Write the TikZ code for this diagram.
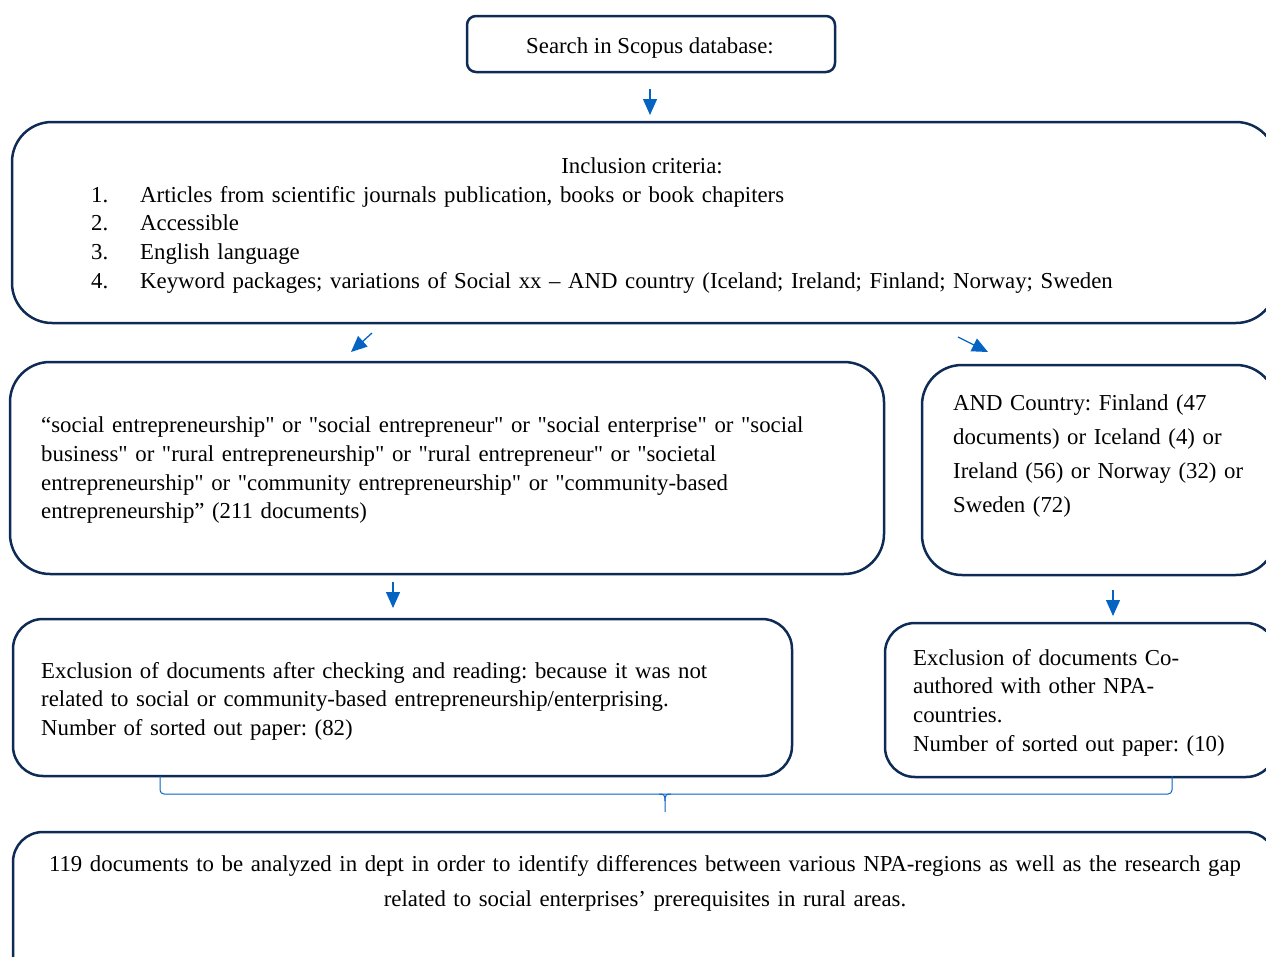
\documentclass[tikz,border=0pt]{standalone}
\usepackage{fontspec}
\setmainfont{Liberation Serif}[Ligatures=TeXOff]
\usetikzlibrary{arrows.meta}
\definecolor{navy}{HTML}{0E2B55}
\definecolor{arrblue}{HTML}{0563C1}
\frenchspacing
\begin{document}
\begin{tikzpicture}[x=1pt,y=-1pt,
  box/.style={draw=navy, line width=2.5pt, inner sep=0pt},
  arr/.style={draw=arrblue, line width=1.3pt, -{Triangle[length=16pt,width=14pt]}},
  bracestyle/.style={draw=arrblue, line width=1pt},
  txtA/.style={inner sep=0pt, font=\fontsize{22.8}{28.7}\selectfont},
  txtB/.style={inner sep=0pt, font=\fontsize{22.8}{34}\selectfont}]
\useasboundingbox (0,0) rectangle (1266,956);
\clip (0,0) rectangle (1266,956);

% boxes
\node[box, minimum width=368, minimum height=56, rounded corners=9] (search) at (651,44) {};
\node[box, minimum width=1264, minimum height=201, rounded corners=40] (incl) at (644,222.5) {};
\node[box, minimum width=874, minimum height=212, rounded corners=40] (terms) at (447,468) {};
\node[box, minimum width=354, minimum height=210, rounded corners=40] (country) at (1099,470) {};
\node[box, minimum width=779, minimum height=157, rounded corners=30] (excl1) at (402.5,697.5) {};
\node[box, minimum width=391, minimum height=154, rounded corners=30] (excl2) at (1080.5,700) {};
\node[box, minimum width=1263, minimum height=158, rounded corners=30] (final) at (644.5,911) {};

% texts
\node[txtA, anchor=base] (searchtxt) at (650,53) {Search in Scopus database:};
\node[txtA, anchor=base] (incltitle) at (642,173) {Inclusion criteria:};
\node[txtA, anchor=base west, text width=1150, align=left] (incllist) at (91,202)
 {\makebox[49pt][l]{1.}Articles from scientific journals publication, books or book chapiters\\
  \makebox[49pt][l]{2.}Accessible\\
  \makebox[49pt][l]{3.}English language\\
  \makebox[49pt][l]{4.}Keyword packages; variations of Social xx – AND country (Iceland; Ireland; Finland; Norway; Sweden};
\node[txtA, anchor=base west, text width=830, align=left] (termstxt) at (41,432.7)
 {“social entrepreneurship" or "social entrepreneur" or "social enterprise" or "social\\
  business" or "rural entrepreneurship" or "rural entrepreneur" or "societal\\
  entrepreneurship" or "community entrepreneurship" or "community-based\\
  entrepreneurship” (211 documents)};
\node[txtB, anchor=base west, text width=310, align=left] (countrytxt) at (953,410)
 {AND Country: Finland (47\\
  documents) or Iceland (4) or\\
  Ireland (56) or Norway (32) or\\
  Sweden (72)};
\node[txtA, anchor=base west, text width=740, align=left] (excl1txt) at (41,678)
 {Exclusion of documents after checking and reading: because it was not\\
  related to social or community-based entrepreneurship/enterprising.\\
  Number of sorted out paper: (82)};
\node[txtA, anchor=base west, text width=350, align=left] (excl2txt) at (913,665)
 {Exclusion of documents Co-\\
  authored with other NPA-\\
  countries.\\
  Number of sorted out paper: (10)};
\node[inner sep=0pt, font=\fontsize{22.8}{34.5}\selectfont, anchor=base, text width=1250, align=center] (finaltxt) at (645,871.5)
 {119 documents to be analyzed in dept in order to identify differences between various NPA-regions as well as the research gap\\
  related to social enterprises’ prerequisites in rural areas.};

% arrows
\coordinate (a1s) at (650,89);   \coordinate (a1e) at (650,115);
\coordinate (a2s) at (372,333);  \coordinate (a2e) at (351,352);
\coordinate (a3s) at (958,337);  \coordinate (a3e) at (988,352);
\coordinate (a4s) at (393,582);  \coordinate (a4e) at (393,608);
\coordinate (a5s) at (1113,590); \coordinate (a5e) at (1113,616);
\draw[arr] (a1s) -- (a1e);
\draw[arr] (a2s) -- (a2e);
\draw[arr] (a3s) -- (a3e);
\draw[arr] (a4s) -- (a4e);
\draw[arr] (a5s) -- (a5e);

% brace
\coordinate (bl) at (160,776);
\coordinate (br) at (1172,776);
\coordinate (btip) at (665,812);
\draw[bracestyle, rounded corners=4] (bl) -- (160,794) -- (1172,794) -- (br);
\draw[bracestyle] (btip) -- (665,801) .. controls (665,795) and (664,794) .. (659,794);
\draw[bracestyle] (665,801) .. controls (665,795) and (666,794) .. (671,794);
\end{tikzpicture}
\end{document}
